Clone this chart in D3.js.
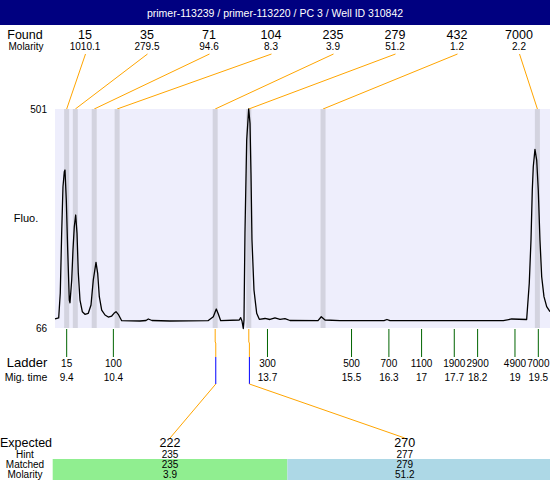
<!DOCTYPE html>
<html>
<head>
<meta charset="utf-8">
<script src="https://cdn.jsdelivr.net/npm/d3@7"></script>
<style>
  body { margin: 0; background: #fff; }
  svg { display: block; font-family: "Liberation Sans", Arial, sans-serif; }
</style>
</head>
<body>
<svg width="550" height="480"></svg>
<script>
var title = "primer-113239 / primer-113220 / PC 3 / Well ID 310842";

// found peaks
var foundSizes = ["15", "35", "71", "104", "235", "279", "432", "7000"];
var foundMolarity = ["1010.1", "279.5", "94.6", "8.3", "3.9", "51.2", "1.2", "2.2"];
var foundTimes = [9.4, 9.585, 9.99, 10.48, 12.58, 13.30, 14.89, 19.48];

// ladder
var ladderSizes = ["15", "100", "300", "500", "700", "1100", "1900", "2900", "4900", "7000"];
var ladderTimes = ["9.4", "10.4", "13.7", "15.5", "16.3", "17", "17.7", "18.2", "19", "19.5"];

// expected / matched
var expectedSizes = ["222", "270"];
var hintSizes = ["235", "277"];
var matchedSizes = ["235", "279"];
var matchedMolarity = ["3.9", "51.2"];
var matchedFound = [4, 5];
var matchedColors = ["#90ee90", "#add8e6"];

// electropherogram trace (mig. time, fluorescence)
var traceTime = [9.15, 9.229, 9.263, 9.293, 9.321, 9.349, 9.364, 9.392, 9.422, 9.456, 9.471,
  9.508, 9.535, 9.563, 9.593, 9.621, 9.649, 9.685, 9.735, 9.792, 9.863, 9.921, 9.97, 10.028,
  10.064, 10.099, 10.15, 10.221, 10.291, 10.364, 10.413, 10.456, 10.505, 10.578, 10.97, 11.099,
  11.148, 11.227, 11.612, 12.426, 12.54, 12.604, 12.647, 12.698, 13.096, 13.126, 13.154, 13.182,
  13.197, 13.218, 13.255, 13.298, 13.326, 13.347, 13.368, 13.411, 13.469, 13.525, 13.647, 13.754,
  13.861, 13.968, 14.075, 14.182, 14.782, 14.852, 14.932, 15.253, 16.195, 16.259, 16.323, 18.75,
  18.93, 19.25, 19.306, 19.343, 19.371, 19.392, 19.428, 19.465, 19.499, 19.535, 19.572, 19.621,
  19.679, 19.75];
var traceFluo = [83.9, 85.9, 135.5, 254.7, 346.6, 376.4, 379.8, 320.2, 220.9, 121.6, 116.2,
  161.3, 220.9, 267.2, 290.4, 254.7, 175.2, 121.6, 98.4, 93.2, 95.2, 111.7, 161.3, 196.5,
  174.6, 128.2, 101.7, 91.8, 87.8, 89.8, 95.2, 98.4, 93.2, 80.5, 79.9, 80.9,
  83.9, 80.9, 79.9, 80.5, 88.4, 103.7, 93.8, 80.5, 81.9, 86.5, 79.9, 65,
  81.9, 254, 439.4, 501, 472.5, 373.2, 240.8, 141.5, 95.2, 83.3, 84.9, 82.9,
  85.9, 83.3, 84.5, 80.9, 80.5, 88.4, 81.9, 80.5, 80.5, 82.9, 80.5, 80.5,
  83.9, 82.9, 154.8, 240.8, 340.1, 386.4, 420.9, 399.6, 340.1, 240.8, 167.9, 128.2,
  108.3, 98.4];

var fluoTicks = [66, 501];

var svg = d3.select("svg"),
    plot = {left: 55, right: 550, top: 109, bottom: 328};

var x = d3.scaleLinear().domain([9.15, 19.75]).range([plot.left, plot.right]);
var y = d3.scaleLinear().domain([66, 501]).range([plot.bottom, plot.top]);

// label columns for found peaks
var foundX = d3.scalePoint().domain(d3.range(foundSizes.length)).range([85, 519]);

// title bar
svg.append("rect").attr("width", 550).attr("height", 25).attr("fill", "#000080");
svg.append("text")
    .attr("x", 275).attr("y", 17)
    .attr("text-anchor", "middle")
    .attr("fill", "#fff")
    .style("font-size", "10.5px")
    .text(title);

// row titles
svg.append("text").attr("x", 25).attr("y", 39).attr("text-anchor", "middle")
    .style("font-size", "12.5px").text("Found");
svg.append("text").attr("x", 26).attr("y", 50).attr("text-anchor", "middle")
    .style("font-size", "10px").text("Molarity");

var found = svg.append("g").selectAll("g")
    .data(foundSizes)
    .enter().append("g");

found.append("text")
    .attr("x", function(d, i) { return foundX(i); })
    .attr("y", 39)
    .attr("text-anchor", "middle")
    .style("font-size", "12.5px")
    .text(function(d) { return d; });

found.append("text")
    .attr("x", function(d, i) { return foundX(i); })
    .attr("y", 50)
    .attr("text-anchor", "middle")
    .style("font-size", "10px")
    .text(function(d, i) { return foundMolarity[i]; });

found.append("line")
    .attr("x1", function(d, i) { return foundX(i) + 0.5; })
    .attr("y1", 54)
    .attr("x2", function(d, i) { return x(foundTimes[i]); })
    .attr("y2", plot.top)
    .attr("stroke", "#ffa500")
    .attr("stroke-width", 1);

// plot background + found bands
svg.append("rect")
    .attr("x", plot.left).attr("y", plot.top)
    .attr("width", plot.right - plot.left).attr("height", plot.bottom - plot.top)
    .attr("fill", "#eeeefc");

svg.append("g").selectAll("rect")
    .data(foundTimes)
    .enter().append("rect")
    .attr("x", function(d) { return x(d) - 2.5; })
    .attr("y", plot.top)
    .attr("width", 5)
    .attr("height", plot.bottom - plot.top)
    .attr("fill", "#d3d3df");

// trace
var line = d3.line()
    .x(function(d, i) { return x(traceTime[i]); })
    .y(function(d) { return y(d); });

svg.append("path")
    .datum(traceFluo)
    .attr("d", line)
    .attr("fill", "none")
    .attr("stroke", "#000")
    .attr("stroke-width", 1.3)
    .attr("stroke-linejoin", "round");

// y labels
svg.append("g").selectAll("text")
    .data(fluoTicks)
    .enter().append("text")
    .attr("x", 47)
    .attr("y", function(d) { return y(d) + 4; })
    .attr("text-anchor", "end")
    .style("font-size", "10px")
    .text(function(d) { return d; });

svg.append("text").attr("x", 26).attr("y", 222).attr("text-anchor", "middle")
    .style("font-size", "11px").text("Fluo.");

// ladder
svg.append("text").attr("x", 27).attr("y", 367).attr("text-anchor", "middle")
    .style("font-size", "13px").text("Ladder");
svg.append("text").attr("x", 26).attr("y", 381).attr("text-anchor", "middle")
    .style("font-size", "10.5px").text("Mig. time");

var ladder = svg.append("g").selectAll("g")
    .data(ladderSizes)
    .enter().append("g")
    .attr("transform", function(d, i) { return "translate(" + x(+ladderTimes[i]) + ",0)"; });

ladder.append("line")
    .attr("y1", plot.bottom + 1).attr("y2", 357)
    .attr("stroke", "#006400");

ladder.append("text")
    .attr("y", 367)
    .attr("text-anchor", "middle")
    .style("font-size", "10px")
    .text(function(d) { return d; });

ladder.append("text")
    .attr("y", 381)
    .attr("text-anchor", "middle")
    .style("font-size", "10px")
    .text(function(d, i) { return ladderTimes[i]; });

// expected / matched table
var colW = 234.7, tableLeft = 52.7;
var colX = function(i) { return tableLeft + colW * i + colW / 2; };

svg.append("g").selectAll("rect")
    .data(matchedSizes)
    .enter().append("rect")
    .attr("x", function(d, i) { return tableLeft + colW * i; })
    .attr("y", 459)
    .attr("width", function(d, i) { return i === matchedSizes.length - 1 ? 550 - (tableLeft + colW * i) : colW; })
    .attr("height", 21)
    .attr("fill", function(d, i) { return matchedColors[i]; });

var rowTitles = [["Expected", 447, "12.5px"], ["Hint", 458, "10px"], ["Matched", 468, "10px"], ["Molarity", 478, "10px"]];
svg.append("g").selectAll("text")
    .data(rowTitles)
    .enter().append("text")
    .attr("x", function(d, i) { return i === 0 ? 26 : 25; })
    .attr("y", function(d) { return d[1]; })
    .attr("text-anchor", "middle")
    .style("font-size", function(d) { return d[2]; })
    .text(function(d) { return d[0]; });

var expCol = svg.append("g").selectAll("g")
    .data(expectedSizes)
    .enter().append("g");

expCol.append("text").attr("x", function(d, i) { return colX(i); }).attr("y", 447)
    .attr("text-anchor", "middle").style("font-size", "12.5px").text(function(d) { return d; });
expCol.append("text").attr("x", function(d, i) { return colX(i); }).attr("y", 458)
    .attr("text-anchor", "middle").style("font-size", "10px").text(function(d, i) { return hintSizes[i]; });
expCol.append("text").attr("x", function(d, i) { return colX(i); }).attr("y", 468)
    .attr("text-anchor", "middle").style("font-size", "10px").text(function(d, i) { return matchedSizes[i]; });
expCol.append("text").attr("x", function(d, i) { return colX(i); }).attr("y", 478)
    .attr("text-anchor", "middle").style("font-size", "10px").text(function(d, i) { return matchedMolarity[i]; });

// connectors from matched peaks to table
expCol.append("path")
    .attr("d", function(d, i) {
      var px = x(foundTimes[matchedFound[i]]);
      return "M" + px + "," + (plot.bottom + 1) + "V342L" + (px + 0.6) + ",343V357";
    })
    .attr("fill", "none").attr("stroke", "#ffa500");

expCol.append("line")
    .attr("x1", function(d, i) { return x(foundTimes[matchedFound[i]]) + 0.6; })
    .attr("x2", function(d, i) { return x(foundTimes[matchedFound[i]]) + 0.6; })
    .attr("y1", 357).attr("y2", 384)
    .attr("stroke", "#0000ff");

expCol.append("line")
    .attr("x1", function(d, i) { return x(foundTimes[matchedFound[i]]) + 0.6; })
    .attr("y1", 384)
    .attr("x2", function(d, i) { return colX(i); })
    .attr("y2", 438)
    .attr("stroke", "#ffa500");
</script>
</body>
</html>
